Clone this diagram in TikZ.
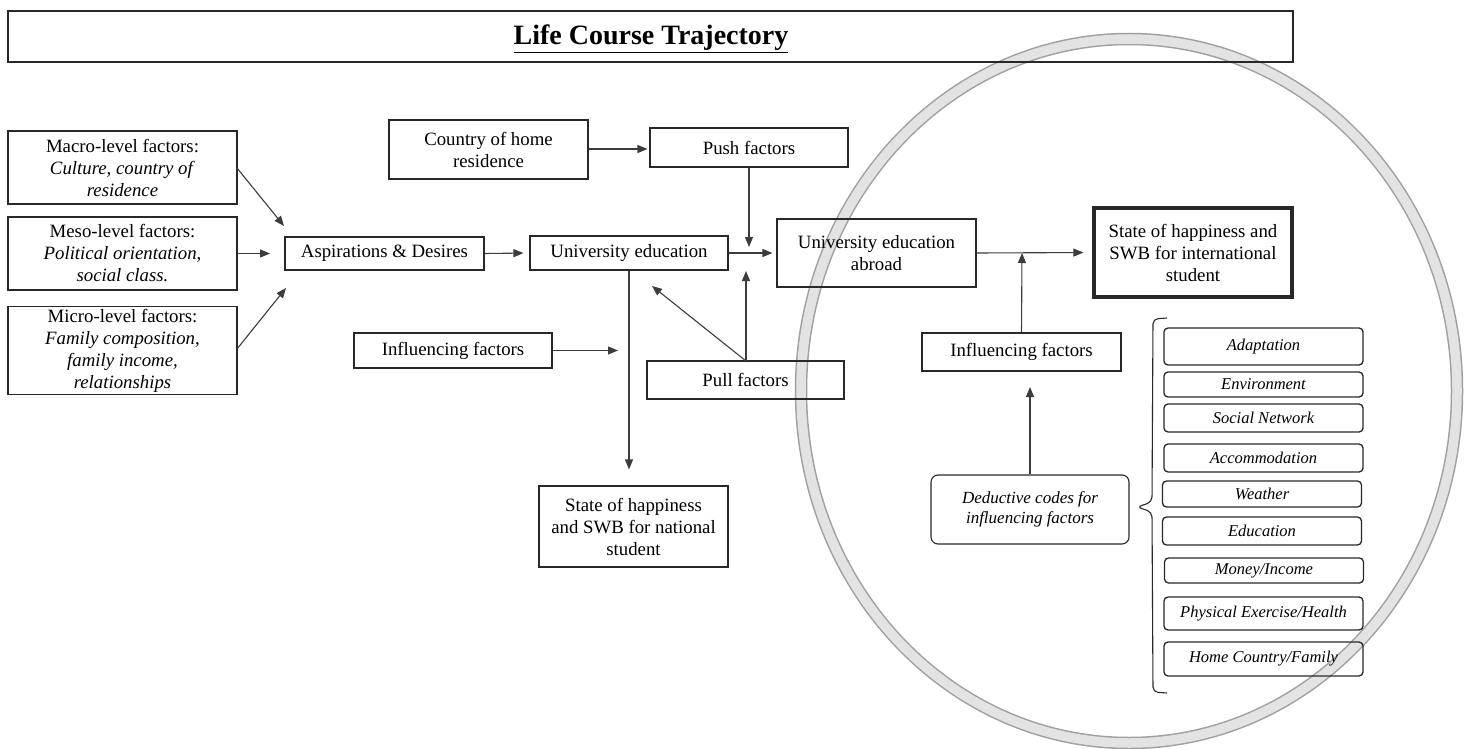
\documentclass[tikz,border=0pt]{standalone}
\usepackage{fontspec}
\setmainfont{Liberation Serif}
\usetikzlibrary{arrows.meta}
\definecolor{boxline}{RGB}{40,40,40}
\definecolor{arrline}{RGB}{60,60,60}
\definecolor{ringedge}{RGB}{160,160,160}
\definecolor{ringfill}{RGB}{227,227,227}
\newcommand{\mainfs}{\fontsize{18.8}{22}\selectfont}
\newcommand{\listfs}{\fontsize{16.5}{19}\selectfont\itshape}
\newcommand{\dedfs}{\fontsize{17}{20}\selectfont\itshape}
\begin{document}
\begin{tikzpicture}[x=1pt,y=-1pt,
  box/.style={draw=boxline,line width=1.1pt,inner sep=0pt,align=center,font=\mainfs},
  listbox/.style={draw=boxline,line width=1.3pt,rounded corners=4pt,inner sep=0pt,align=center,font=\listfs,minimum width=199pt},
  arr/.style={draw=arrline,line width=1.1pt,-{Triangle[length=10pt,width=8pt]}},
  plain/.style={draw=arrline,line width=1.1pt}]
\useasboundingbox (0,0) rectangle (1470,749);
\fill[white] (0,0) rectangle (1470,749);
% ring
\draw[ringedge,line width=12.5pt] (1129,391) ellipse [x radius=328,y radius=352];
\draw[ringfill,line width=9.5pt] (1129,391) ellipse [x radius=328,y radius=352];

% title
\node[box,minimum width=1285pt,minimum height=51pt] (title) at (650.5,36.5) {};
\node[font=\fontsize{28}{32}\selectfont\bfseries,inner sep=0pt] (titletext) at (651,38.5) {\underline{Life Course Trajectory}};

% left column
\node[box,minimum width=229pt,minimum height=73pt] (macro) at (122.5,167.5)
  {Macro-level factors:\\\textit{Culture, country of}\\\textit{residence}};
\node[box,minimum width=229pt,minimum height=73pt] (meso) at (122.5,253.5)
  {Meso-level factors:\\\textit{Political orientation,}\\\textit{social class.}};
\node[box,minimum width=229pt,minimum height=88pt] (micro) at (122.5,350.5)
  {Micro-level factors:\\\textit{Family composition,}\\\textit{family income,}\\\textit{relationships}};

\node[box,minimum width=199pt,minimum height=33pt] (asp) at (384.5,253.5) {Aspirations \& Desires};
\node[box,minimum width=199pt,minimum height=59pt] (country) at (488.5,149.5) {Country of home\\residence};
\node[box,minimum width=198pt,minimum height=39pt] (push) at (749,147.5) {Push factors};
\node[box,minimum width=198pt,minimum height=34pt] (ue) at (629,253) {University education};
\node[box,minimum width=199pt,minimum height=68pt] (uea) at (876.5,253) {University education\\abroad};
\node[box,line width=3.2pt,minimum width=198pt,minimum height=89pt] (intl) at (1193,252.5)
  {State of happiness and\\SWB for international\\student};
\node[box,minimum width=198pt,minimum height=35pt] (infll) at (453,350.5) {Influencing factors};
\node[box,minimum width=197pt,minimum height=38pt] (pull) at (745.5,380) {Pull factors};
\node[box,minimum width=189pt,minimum height=81pt] (nat) at (633.5,526.5)
  {State of happiness\\and SWB for national\\student};
\node[box,minimum width=199pt,minimum height=38pt] (inflr) at (1021.5,352) {Influencing factors};
\node[box,rounded corners=7pt,font=\dedfs,minimum width=198pt,minimum height=69pt] (ded) at (1030,509.5)
  {Deductive codes for\\influencing factors};

% list
\node[listbox,minimum height=37pt] (l1) at (1263.5,346.5) {Adaptation};
\node[listbox,minimum height=25pt] (l2) at (1263.5,384.5) {Environment};
\node[listbox,minimum height=28pt] (l3) at (1263.5,418) {Social Network};
\node[listbox,minimum height=28pt] (l4) at (1263.5,458) {Accommodation};
\node[listbox,minimum height=26pt] (l5) at (1262,494) {Weather};
\node[listbox,minimum height=28pt] (l6) at (1262,531) {Education};
\node[listbox,minimum height=25pt] (l7) at (1264,570.5) {Money/Income};
\node[listbox,minimum height=33pt] (l8) at (1263.5,613.5) {Physical Exercise/Health};
\node[listbox,minimum height=34pt] (l9) at (1263.5,659) {Home Country/Family};

% brace
\draw[boxline,line width=1.1pt,rounded corners=5pt]
  (1167,318) -- (1153,319) -- (1152,502) -- (1137,507) -- (1152,512) -- (1153,692) -- (1167,693);

% coordinates for free ends
\coordinate (aspA) at (284,226);
\coordinate (aspB) at (270,253.5);
\coordinate (aspC) at (286,288);
\coordinate (pushend) at (749,247);
\coordinate (pullup) at (746,271);
\coordinate (pulldiag) at (652,286);
\coordinate (inflend) at (618,350.5);
\coordinate (joinr) at (1022,253);
\coordinate (dedend) at (1030,387);
\coordinate (pullfoot) at (746,361);

% connectors
\draw[arr] (237,168) -- (aspA);
\draw[arr] (meso.east) -- (aspB);
\draw[arr] (237,349) -- (aspC);
\draw[arr,shorten >=6pt] (asp.east) -- (ue.west);
\draw[arr,shorten >=2pt] (country.east |- 0,149) -- (push.west |- 0,149);
\draw[arr] (push.south) -- (pushend);
\draw[arr,shorten >=4pt] (ue.east) -- (uea.west);
\draw[arr] (pullfoot) -- (pullup);
\draw[arr] (pullfoot) -- (pulldiag);
\draw[arr] (infll.east) -- (inflend);
\draw[arr,shorten >=16pt] (ue.south) -- (ue.south |- nat.north);
\draw[arr,shorten >=9pt] (uea.east) -- (intl.west);
\draw[arr] (inflr.north) -- (joinr);
\draw[arr] (ded.north) -- (dedend);
\end{tikzpicture}
\end{document}
